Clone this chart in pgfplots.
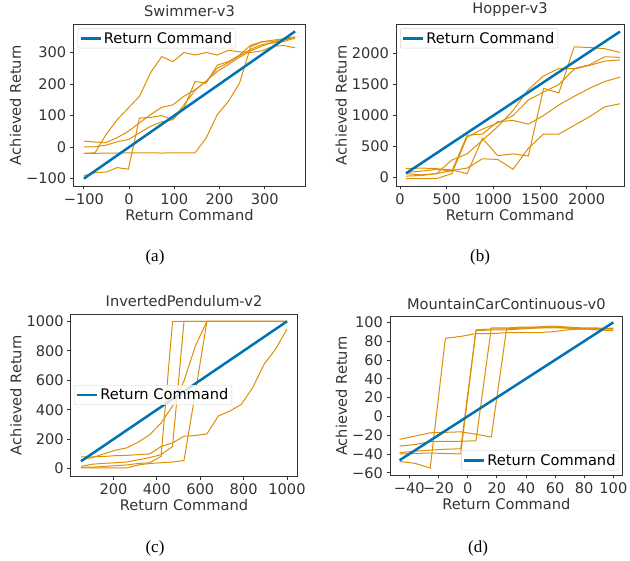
\documentclass[border=0pt]{standalone}
\usepackage{fontspec}
\usepackage{pgfplots}
\pgfplotsset{compat=1.18}
\setmainfont{DejaVu Sans}
\newfontfamily\capfont{Liberation Serif}

\definecolor{cborange}{HTML}{DE8F05}
\definecolor{cbblue}{HTML}{0173B2}
\definecolor{spine}{HTML}{333333}

\newcommand{\lbl}{\fontsize{14.6bp}{16bp}\selectfont}

\pgfplotsset{
  mpl/.style={
    scale only axis,
    axis line style={spine, line width=0.8bp},
    tick align=outside, tick pos=left,
    major tick length=3.5bp,
    every tick/.style={spine, line width=0.8bp},
    tick label style={font=\lbl, text=spine},
    xticklabel style={inner sep=3.5bp},
    label style={font=\lbl, text=spine},
    xlabel style={inner sep=1bp},
    ylabel style={inner sep=1.5bp},
    title style={font=\lbl, text=spine, inner sep=2bp, yshift=-1bp},
    xlabel={Return Command}, ylabel={Achieved Return},
    legend style={draw=gray!35, rounded corners=2bp, fill=white, fill opacity=0.8,
      text opacity=1, font=\lbl, inner sep=1.5bp},
    legend cell align=left,
    legend image code/.code={\draw[#1] (0bp,0bp) -- (20bp,0bp);},
  },
  run/.style={cborange, line width=1bp, forget plot},
  cmd/.style={cbblue, line width=2.5bp},
}

\begin{document}
\begin{tikzpicture}
\path[use as bounding box] (0,0) rectangle (630bp,561bp);

% (a) Swimmer
\begin{axis}[mpl, name=a, at={(73.3bp,375bp)}, anchor=south west,
  width=232.4bp, height=162bp, title={Swimmer-v3},
  xmin=-123.4, xmax=390.4, ymin=-123.4, ymax=390.4,
  xtick={-100,0,100,200,300}, xticklabels={−100,0,100,200,300},
  ytick={-100,0,100,200,300}, yticklabels={−100,0,100,200,300},
  legend style={at={(0.019,0.973)}, anchor=north west}]
\addplot[run] coordinates {(-100,-20) (-75.4,-18) (-50.8,40) (-26.3,87) (-1.7,124) (22.9,161) (47.5,236) (72.1,287) (96.6,271) (121.2,300) (145.8,292) (170.4,300) (195,292) (219.5,307) (244.1,302) (268.7,300) (293.3,305) (317.9,320) (342.4,322) (367,315)};
\addplot[run] coordinates {(-100,-20) (-75.4,-20) (-50.8,-19) (-26.3,-19) (-1.7,-18) (22.9,-18) (47.5,-18) (72.1,-19) (96.6,-18) (121.2,-18) (145.8,-18) (170.4,29) (195,103) (219.5,145) (244.1,203) (268.7,318) (293.3,334) (317.9,334) (342.4,344) (367,350)};
\addplot[run] coordinates {(-100,-91) (-75.4,-81) (-50.8,-79) (-26.3,-65) (-1.7,-70) (22.9,92) (47.5,94) (72.1,100) (96.6,87) (121.2,124) (145.8,208) (170.4,203) (195,260) (219.5,271) (244.1,292) (268.7,323) (293.3,334) (317.9,339) (342.4,344) (367,344)};
\addplot[run] coordinates {(-100,19) (-75.4,16) (-50.8,14) (-26.3,30) (-1.7,50) (22.9,77) (47.5,103) (72.1,126) (96.6,134) (121.2,161) (145.8,182) (170.4,208) (195,250) (219.5,268) (244.1,290) (268.7,310) (293.3,325) (317.9,330) (342.4,340) (367,345)};
\addplot[run] coordinates {(-100,1) (-75.4,1) (-50.8,6) (-26.3,17) (-1.7,24) (22.9,45) (47.5,66) (72.1,80) (96.6,87) (121.2,134) (145.8,180) (170.4,210) (195,240) (219.5,262) (244.1,285) (268.7,305) (293.3,320) (317.9,333) (342.4,335) (367,347)};
\addplot[cmd] coordinates {(-100,-100) (367,367)};
\addlegendentry{Return Command}
\end{axis}

% (b) Hopper
\begin{axis}[mpl, name=b, at={(396bp,375bp)}, anchor=south west,
  width=228bp, height=162bp, title={Hopper-v3},
  xmin=-43, xmax=2400, ymin=-140, ymax=2480,
  xtick={0,500,1000,1500,2000}, xticklabels={0,500,1000,1500,2000},
  ytick={0,500,1000,1500,2000}, yticklabels={0,500,1000,1500,2000},
  legend style={at={(0.018,0.973)}, anchor=north west}]
\addplot[run] coordinates {(64,60) (228,40) (392,60) (555,110) (719,150) (883,300) (1047,290) (1211,130) (1375,470) (1538,700) (1702,700) (1866,840) (2030,980) (2194,1140) (2357,1190)};
\addplot[run] coordinates {(64,140) (228,150) (392,140) (555,120) (719,60) (883,630) (1047,350) (1211,380) (1375,345) (1538,1440) (1702,1365) (1866,2110) (2030,2100) (2194,2080) (2357,2020)};
\addplot[run] coordinates {(64,20) (228,30) (392,60) (555,280) (719,380) (883,600) (1047,820) (1211,1080) (1375,1420) (1538,1640) (1702,1760) (1866,1760) (2030,1820) (2194,1950) (2357,1940)};
\addplot[run] coordinates {(64,80) (228,100) (392,130) (555,100) (719,680) (883,700) (1047,900) (1211,920) (1375,860) (1538,1000) (1702,1170) (1866,1310) (2030,1440) (2194,1550) (2357,1620)};
\addplot[run] coordinates {(64,-20) (228,-20) (392,-20) (555,60) (719,650) (883,780) (1047,880) (1211,1000) (1375,1250) (1538,1380) (1702,1500) (1866,1750) (2030,1810) (2194,1880) (2357,1900)};
\addplot[cmd] coordinates {(64,64) (2357,2357)};
\addlegendentry{Return Command}
\end{axis}

% (c) InvertedPendulum
\begin{axis}[mpl, name=c, at={(70.7bp,85bp)}, anchor=south west,
  width=226.6bp, height=162bp, title={InvertedPendulum-v2},
  xmin=2.5, xmax=1047.5, ymin=-50, ymax=1050,
  xtick={200,400,600,800,1000}, xticklabels={200,400,600,800,1000},
  ytick={0,200,400,600,800,1000}, yticklabels={0,200,400,600,800,1000},
  legend style={at={(0.015,0.5)}, anchor=west}]
\addplot[run] coordinates {(50,80) (102.8,80) (155.6,83) (208.3,88) (261.1,90) (313.9,95) (366.7,100) (419.4,150) (472.2,175) (525,220) (577.8,225) (630.6,236) (683.3,357) (736.1,391) (788.9,436) (841.7,550) (894.4,709) (947.2,811) (1000,948)};
\addplot[run] coordinates {(50,61) (102.8,75) (155.6,100) (208.3,125) (261.1,141) (313.9,180) (366.7,230) (419.4,310) (472.2,425) (525,596) (577.8,834) (630.6,1000) (683.3,1000) (736.1,1000) (788.9,1000) (841.7,1000) (894.4,1000) (947.2,1000) (1000,1000)};
\addplot[run] coordinates {(50,9) (102.8,10) (155.6,15) (208.3,20) (261.1,25) (313.9,35) (366.7,40) (419.4,84) (472.2,1000) (525,1000) (577.8,1000) (630.6,1000) (683.3,1000) (736.1,1000) (788.9,1000) (841.7,1000) (894.4,1000) (947.2,1000) (1000,1000)};
\addplot[run] coordinates {(50,5) (102.8,5) (155.6,5) (208.3,5) (261.1,5) (313.9,25) (366.7,35) (419.4,40) (472.2,45) (525,55) (577.8,520) (630.6,1000) (683.3,1000) (736.1,1000) (788.9,1000) (841.7,1000) (894.4,1000) (947.2,1000) (1000,1000)};
\addplot[run] coordinates {(50,16) (102.8,30) (155.6,36) (208.3,40) (261.1,45) (313.9,60) (366.7,75) (419.4,95) (472.2,150) (525,1000) (577.8,1000) (630.6,1000) (683.3,1000) (736.1,1000) (788.9,1000) (841.7,1000) (894.4,1000) (947.2,1000) (1000,1000)};
\addplot[cmd] coordinates {(50,50) (1000,1000)};
\addlegendentry{Return Command}
\end{axis}

% (d) MountainCarContinuous
\begin{axis}[mpl, name=d, at={(390bp,86bp)}, anchor=south west,
  width=232.7bp, height=158.3bp, title={MountainCarContinuous-v0},
  xmin=-53.3, xmax=106.4, ymin=-62.4, ymax=106,
  xtick={-40,-20,0,20,40,60,80,100}, xticklabels={−40,−20,0,20,40,60,80,100},
  ytick={-60,-40,-20,0,20,40,60,80,100}, yticklabels={−60,−40,−20,0,20,40,60,80,100},
  legend style={at={(0.985,0.03)}, anchor=south east}]
\addplot[run] coordinates {(-46.7,-48) (-36.2,-50) (-25.7,-55) (-15.3,83) (-4.8,85) (5.7,88) (16.2,88) (26.7,89) (37.2,89) (47.6,89) (58.1,90) (68.6,92) (79.1,93) (89.5,93) (100,93)};
\addplot[run] coordinates {(-46.7,-24.5) (-36.2,-21) (-25.7,-17.5) (-15.3,-17) (-4.8,-16.5) (5.7,-19) (16.2,-22) (26.7,93) (37.2,94) (47.6,94) (58.1,95) (68.6,94) (79.1,93) (89.5,92) (100,91)};
\addplot[run] coordinates {(-46.7,-31.6) (-36.2,-30) (-25.7,-27) (-15.3,-26.5) (-4.8,-26.5) (5.7,-26) (16.2,94) (26.7,94) (37.2,95) (47.6,95) (58.1,95) (68.6,94) (79.1,93) (89.5,93) (100,93)};
\addplot[run] coordinates {(-46.7,-38.7) (-36.2,-37) (-25.7,-36) (-15.3,-35) (-4.8,-34.5) (5.7,92) (16.2,93) (26.7,93) (37.2,94) (47.6,95) (58.1,96) (68.6,95) (79.1,94) (89.5,94) (100,93)};
\addplot[run] coordinates {(-46.7,-40) (-36.2,-39.5) (-25.7,-39) (-15.3,-39.5) (-4.8,-40) (5.7,91) (16.2,92) (26.7,92) (37.2,93) (47.6,94) (58.1,94) (68.6,94) (79.1,93) (89.5,93) (100,94)};
\addplot[cmd] coordinates {(-46.7,-46.7) (100,100)};
\addlegendentry{Return Command}
\end{axis}

\node[font=\capfont\fontsize{17bp}{19bp}\selectfont] at (155bp,304bp) {(a)};
\node[font=\capfont\fontsize{17bp}{19bp}\selectfont] at (480bp,304bp) {(b)};
\node[font=\capfont\fontsize{17bp}{19bp}\selectfont] at (155bp,13bp) {(c)};
\node[font=\capfont\fontsize{17bp}{19bp}\selectfont] at (478bp,13bp) {(d)};
\end{tikzpicture}
\end{document}
